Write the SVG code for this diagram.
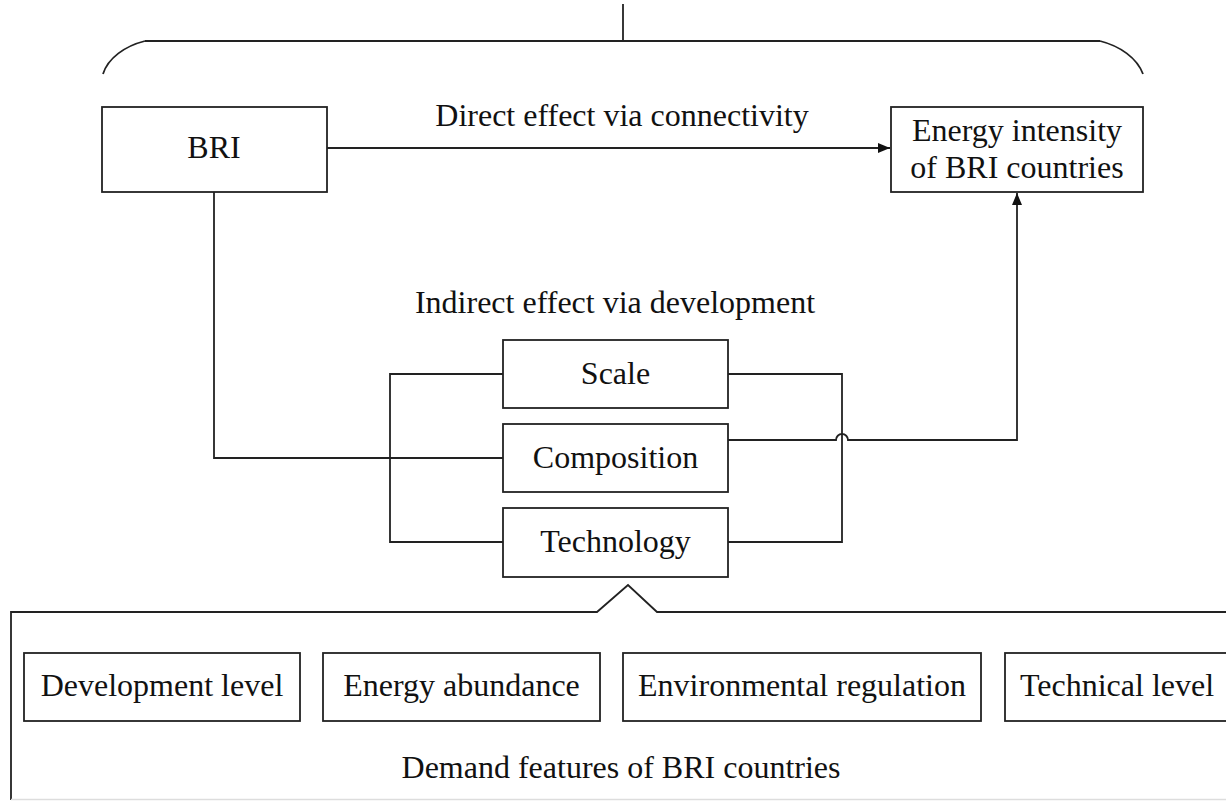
<svg xmlns="http://www.w3.org/2000/svg" width="1226" height="801" viewBox="0 0 1226 801">
  <style>
    .box { fill: #fff; stroke: #222; stroke-width: 1.8; }
    .ln { fill: none; stroke: #222; stroke-width: 1.8; }
    .t { font-family: "Liberation Serif", "Times New Roman", serif; font-size: 32px; fill: #111; text-anchor: middle; }
  </style>
  <defs>
    <marker id="arr" markerWidth="12" markerHeight="12" refX="12" refY="6" orient="auto" markerUnits="userSpaceOnUse">
      <path d="M0,1 L12,6 L0,11 Z" fill="#111"/>
    </marker>
  </defs>
  <rect width="1226" height="801" fill="#fff"/>

  <g id="brace">
    <path class="ln" d="M623,4 V41"/>
    <path class="ln" d="M145,41 H1100"/>
    <path class="ln" d="M145,41 C125,46 108,58 103,74"/>
    <path class="ln" d="M1100,41 C1120,46 1137,58 1143,74"/>
  </g>

  <g id="connectors">
    <path class="ln" d="M327,148 H890" marker-end="url(#arr)"/>
    <path class="ln" d="M214,192 V458 H503"/>
    <path class="ln" d="M503,374 H390 V542 H503"/>
    <path class="ln" d="M728,374 H842 V542 H728"/>
    <path class="ln" d="M728,440 H836 A6,6 0 0 1 848,440 H1017 V193" marker-end="url(#arr)"/>
  </g>

  <g id="node-bri">
    <rect class="box" x="102" y="107" width="225" height="85"/>
    <text class="t" x="214" y="158">BRI</text>
  </g>

  <text class="t" x="622" y="126">Direct effect via connectivity</text>

  <g id="node-energy">
    <rect class="box" x="891" y="107" width="252" height="85"/>
    <text class="t" x="1017" y="141">Energy intensity</text>
    <text class="t" x="1017" y="178">of BRI countries</text>
  </g>

  <text class="t" x="615" y="313">Indirect effect via development</text>

  <g id="node-scale">
    <rect class="box" x="503" y="340" width="225" height="68"/>
    <text class="t" x="615.5" y="384">Scale</text>
  </g>
  <g id="node-composition">
    <rect class="box" x="503" y="424" width="225" height="68"/>
    <text class="t" x="615.5" y="468">Composition</text>
  </g>
  <g id="node-technology">
    <rect class="box" x="503" y="508" width="225" height="69"/>
    <text class="t" x="615.5" y="552">Technology</text>
  </g>

  <g id="demand-frame">
    <path class="ln" d="M11,800 V612 H597 L628,585 L657,612 H1226"/>
    <path d="M11,799.5 H1226" stroke="#ddd" stroke-width="1.5"/>
    <text class="t" x="621" y="778">Demand features of BRI countries</text>
  </g>

  <g id="node-development">
    <rect class="box" x="24" y="653" width="276" height="68"/>
    <text class="t" x="162" y="696">Development level</text>
  </g>
  <g id="node-abundance">
    <rect class="box" x="323" y="653" width="277" height="68"/>
    <text class="t" x="461.5" y="696">Energy abundance</text>
  </g>
  <g id="node-regulation">
    <rect class="box" x="623" y="653" width="358" height="68"/>
    <text class="t" x="802" y="696">Environmental regulation</text>
  </g>
  <g id="node-technical">
    <rect class="box" x="1005" y="653" width="240" height="68"/>
    <text class="t" x="1020" y="696" style="text-anchor:start">Technical level</text>
  </g>
</svg>
